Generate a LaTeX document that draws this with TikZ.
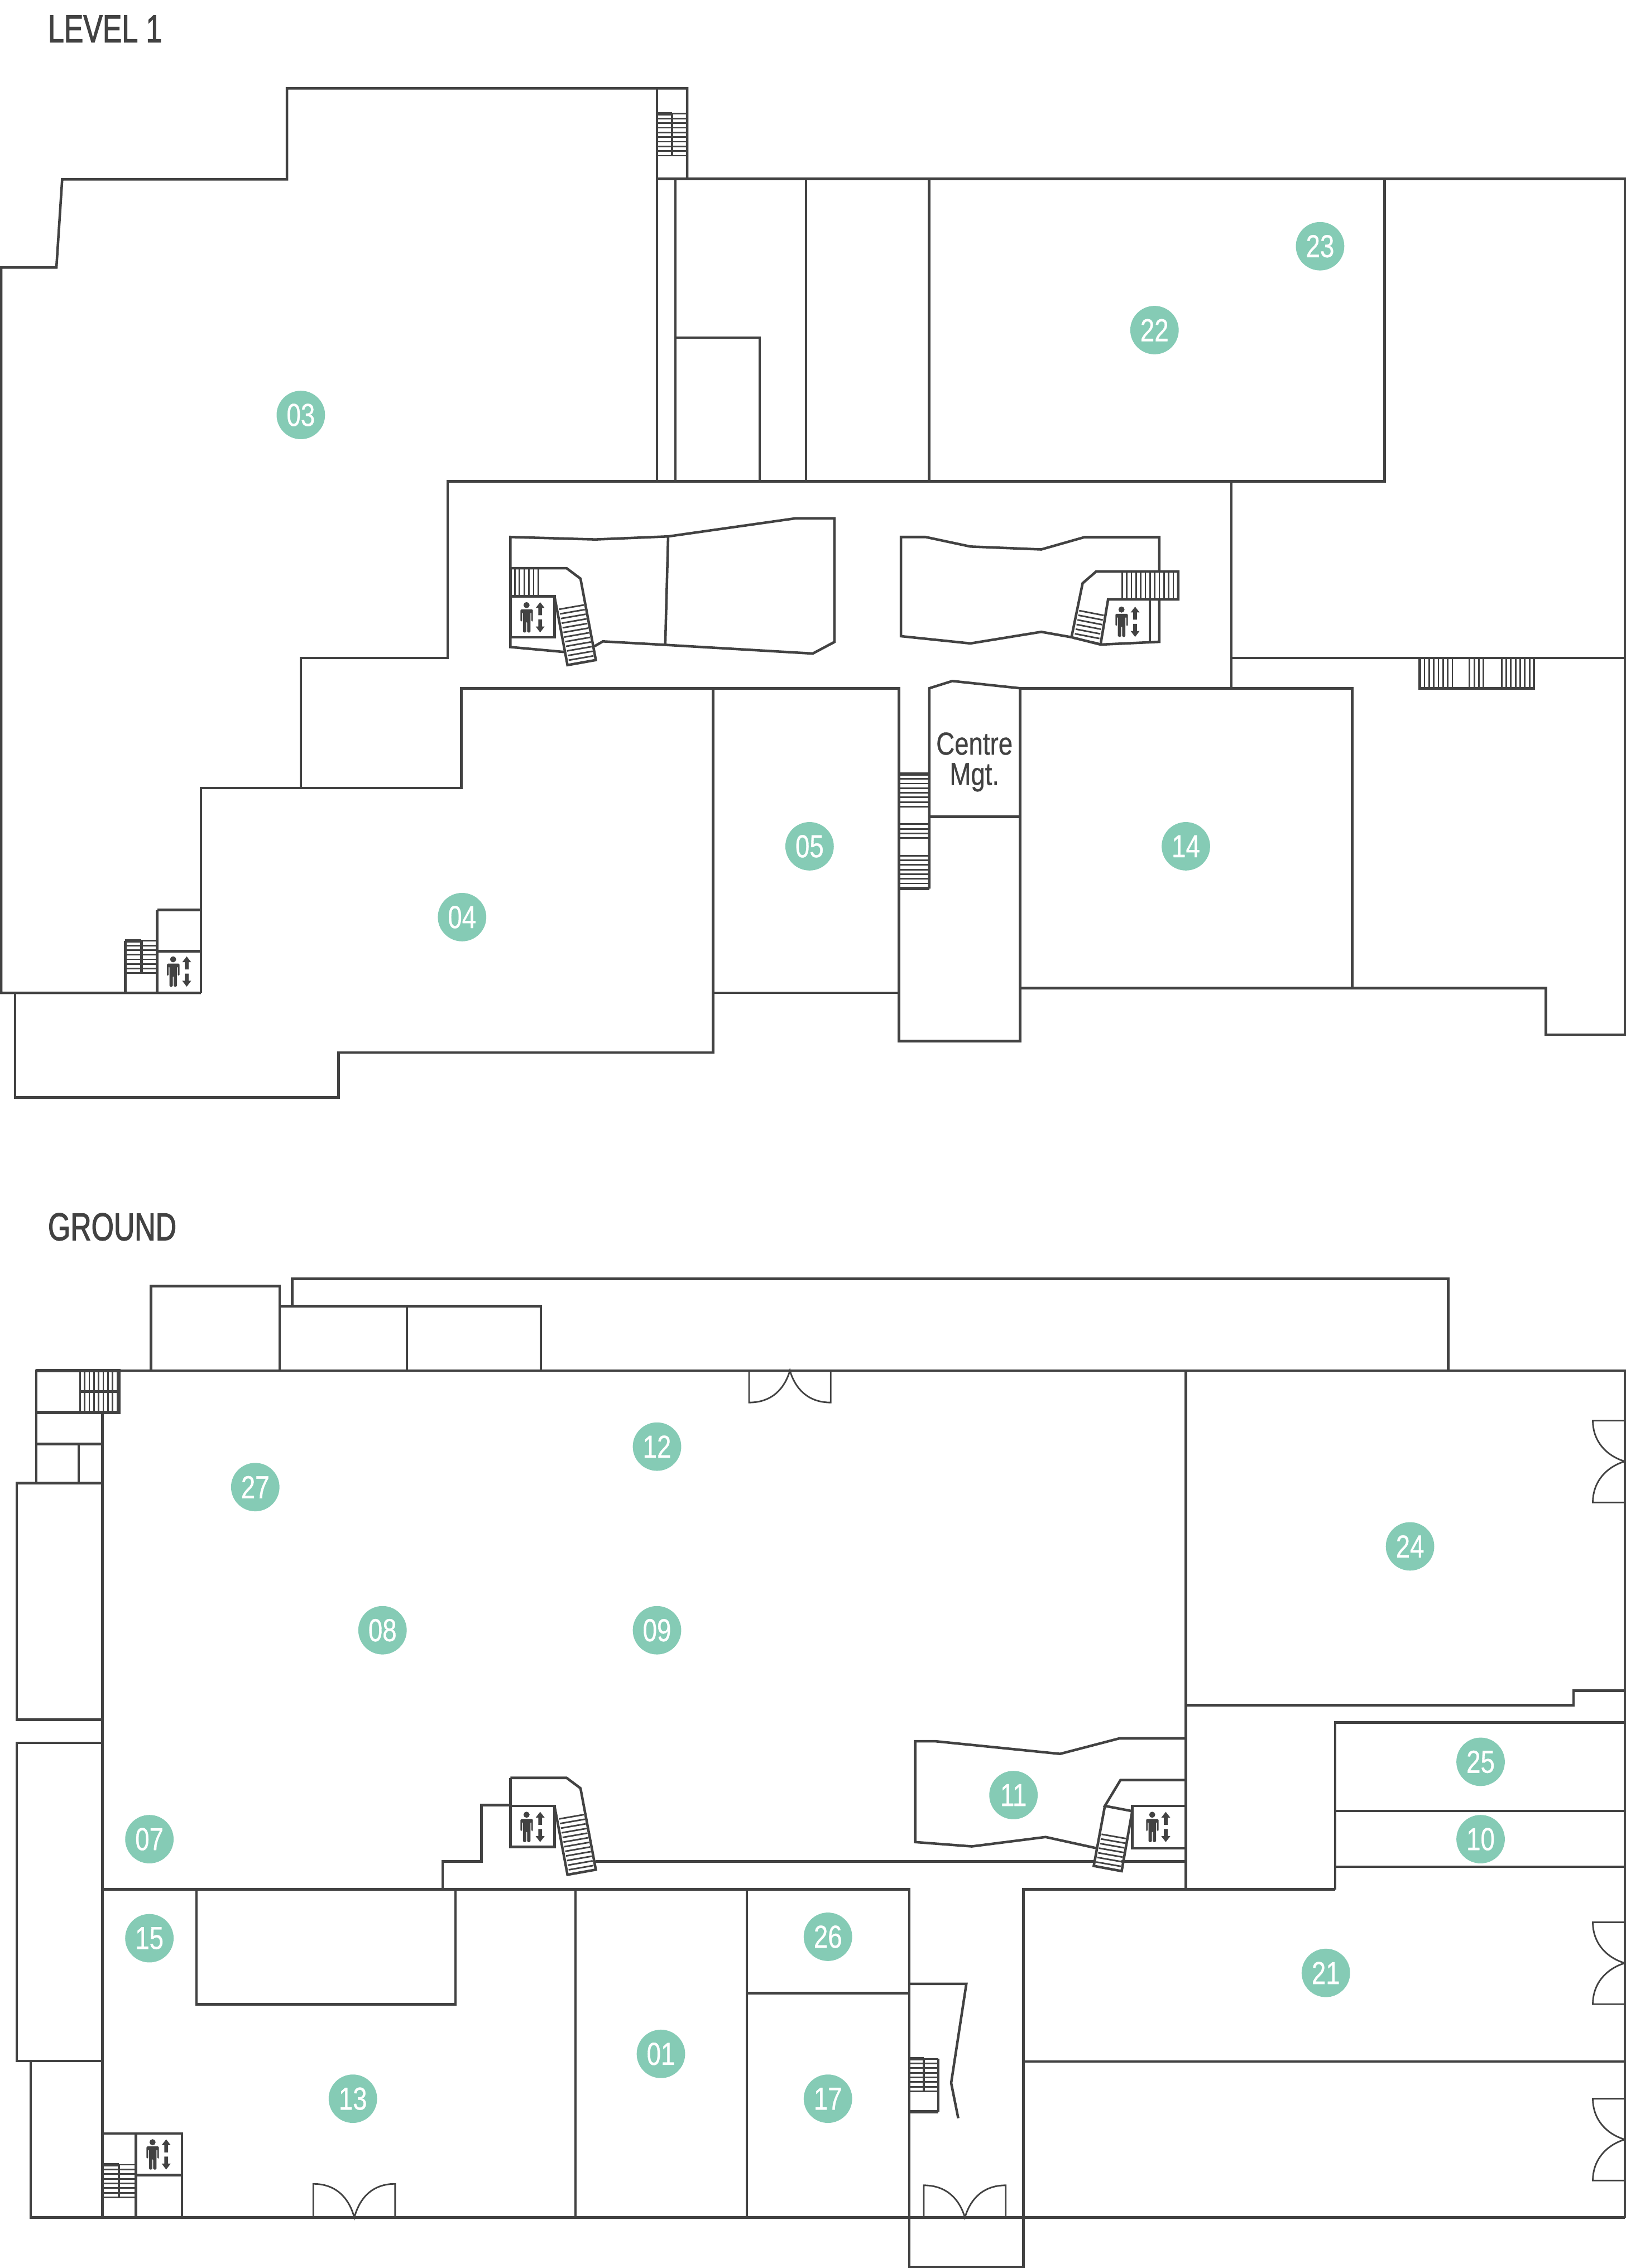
\documentclass[tikz,border=0pt]{standalone}
\usepackage{fontspec}
\setmainfont[FakeStretch=0.8,FakeBold=0.6]{Liberation Sans}
\newfontfamily\levelfont[FakeStretch=0.74,FakeBold=1.6]{Liberation Sans}
\definecolor{plan}{HTML}{424242}
\definecolor{mint}{HTML}{85CBB5}
\begin{document}
\begin{tikzpicture}
[
  x=1pt,
  y=-1pt,
  line join=miter,
  wall/.style={draw=plan,line width=1.75pt},
  heavy/.style={draw=plan,line width=2.4pt},
  tread/.style={draw=plan,line width=1.1pt},
  door/.style={draw=plan,line width=1.1pt},
  room/.style={circle,fill=mint,text=white,minimum size=33.5pt,inner sep=0pt,font=\fontsize{22}{22}\selectfont},
  level/.style={anchor=west,text=plan,inner sep=0pt,font=\levelfont\fontsize{27}{27}\selectfont},
  lifticon/.pic={
    \fill[plan] (-4.5,-8.4) circle[radius=2.1];
    \fill[plan,rounded corners=0.7pt] (-8.7,3) -- (-8.7,-5.5) -- (-0.1,-5.5) -- (-0.1,3) -- (-1.2,3) -- (-1.2,-3.5) -- (-1.8,-3.5) -- (-1.8,10.5) -- (-4.1,10.5) -- (-4.1,3) -- (-4.7,3) -- (-4.7,10.5) -- (-7,10.5) -- (-7,-3.5) -- (-7.6,-3.5) -- (-7.6,3) -- cycle;
    \fill[plan] (4.9,-10.4) -- (8,-6.4) -- (6.2,-6.4) -- (6.2,-1.4) -- (3.6,-1.4) -- (3.6,-6.4) -- (1.8,-6.4) -- cycle;
    \fill[plan] (4.9,10.5) -- (8,6.4) -- (6.2,6.4) -- (6.2,1.5) -- (3.6,1.5) -- (3.6,6.4) -- (1.8,6.4) -- cycle;
  },
  liftstair/.pic={
    \draw[wall] (352.9,393) -- (391.8,393) -- (401.4,400.2) -- (412,456.5) -- (392.4,460) -- (383.4,412.4);
    \draw[wall] (352.9,412.4) -- (383.4,412.4) -- (383.4,440.7) -- (352.9,440.7) -- cycle;
    \draw[wall] (352.9,393) -- (352.9,412.4);
    \foreach \k in {0,...,11}
      \draw[tread] (386.6+0.6*\k,421.4+3.2*\k) -- (403.8+0.6*\k,418.4+3.2*\k);
    \pic at (368.6,426.9) {lifticon};
  }
]
\useasboundingbox (0,0) rectangle (1124,1568.6);

\node[level] (levelone) at (33,20) {LEVEL 1};
\node[level] (ground) at (33,848.5) {GROUND};

% level 1 outline
\draw[wall] (10.5,686.7) -- (10.5,759) -- (234,759) -- (234,728) -- (493,728) -- (493,476);
\draw[wall] (139,686.7) -- (0.8,686.7) -- (0.8,185) -- (39,185) -- (43,124) -- (198.4,124) -- (198.4,61.1) -- (475.2,61.1) -- (475.2,123.8);
\draw[wall] (454.2,61.1) -- (454.2,333);
\draw[wall] (454.2,123.8) -- (1123.5,123.8) -- (1123.5,715.5) -- (1069,715.5) -- (1069,683.4) -- (705.4,683.4);
\draw[wall] (467,123.8) -- (467,333);
\draw[wall] (467,233.5) -- (525.3,233.5) -- (525.3,333);
\draw[wall] (557.3,123.8) -- (557.3,333);
\draw[wall] (642.4,123.8) -- (642.4,333);
\draw[wall] (957.5,123.8) -- (957.5,333) -- (309.5,333) -- (309.5,455) -- (208,455) -- (208,545);
\draw[wall] (851.5,333) -- (851.5,476);
\draw[wall] (851.5,455) -- (1123.5,455);
\draw[wall] (139,686.7) -- (139,545) -- (319,545) -- (319,476) -- (621.6,476) -- (621.6,720) -- (705.4,720) -- (705.4,476) -- (935,476) -- (935,683);
\draw[wall] (493,686.7) -- (621.6,686.7);
\draw[wall] (642.6,614.6) -- (642.6,476) -- (658.5,471) -- (705.4,476);
\draw[wall] (642.6,564.8) -- (705.4,564.8);
\node[text=plan,inner sep=0pt,align=center,font=\fontsize{22}{21}\selectfont] (centre) at (673.8,527) {Centre\\Mgt.};

% level 1 stairs
\draw[wall] (109,629.4) -- (139,629.4);
\draw[wall] (108.7,629.4) -- (108.7,686.7);
\draw[wall] (108.7,657.8) -- (139,657.8);
\draw[wall] (86.6,686.7) -- (86.6,650.7);
\draw[heavy] (86.6,650.7) -- (97.8,650.7);
\draw[tread] (97.8,650.7) -- (108.7,650.7);
\draw[wall] (97.8,650.7) -- (97.8,673.3);
\foreach \k in {1,...,7}
  \draw[tread] (86.6,650.7+3.2*\k) -- (108.7,650.7+3.2*\k);
\pic at (124.2,671.9) {lifticon};

\draw[heavy] (454.2,78.7) -- (464.7,78.7);
\draw[tread] (464.7,78.7) -- (475.2,78.7);
\draw[wall] (464.7,78.7) -- (464.7,107.7);
\foreach \k in {1,...,9}
  \draw[tread] (454.2,78.7+3.22*\k) -- (475.2,78.7+3.22*\k);

\draw[wall] (981.7,455) -- (981.7,476) -- (1060.6,476) -- (1060.6,455);
\foreach \k in {0,...,6} {
  \draw[tread] (985+3.217*\k,455) -- (985+3.217*\k,476);
  \draw[tread] (1038.3+3.217*\k,455) -- (1038.3+3.217*\k,476);
}
\foreach \k in {0,...,3}
  \draw[tread] (1016.2+3.217*\k,455) -- (1016.2+3.217*\k,476);

\draw[heavy] (621.6,535.4) -- (642.6,535.4);
\draw[heavy] (621.6,614.6) -- (642.6,614.6);
\foreach \k in {0,...,6} {
  \draw[tread] (621.6,538.7+3.2*\k) -- (642.6,538.7+3.2*\k);
  \draw[tread] (621.6,591.8+3.2*\k) -- (642.6,591.8+3.2*\k);
}
\foreach \k in {0,...,3}
  \draw[tread] (621.6,570+3.2*\k) -- (642.6,570+3.2*\k);

% level 1 void left
\draw[wall] (352.9,393) -- (352.9,371.4) -- (411.7,373.1) -- (462,371) -- (550,358.5) -- (577,358.5) -- (577,444) -- (562,452) -- (460,446) -- (416.9,443.6) -- (411,447);
\draw[wall] (462,371) -- (460,446);
\draw[wall] (352.9,440.7) -- (352.9,447.5) -- (391,451);
\pic at (0,0) {liftstair};
\foreach \k in {0,...,5}
  \draw[tread] (356+3.25*\k,393) -- (356+3.25*\k,412.4);

% level 1 void right
\draw[wall] (740.9,440.7) -- (720,437) -- (671,445) -- (623,440) -- (623,371.4) -- (640,371.4) -- (671,378) -- (720,380) -- (749.9,371.5) -- (801.6,371.5) -- (801.6,395.3);
\draw[wall] (801.6,414.6) -- (801.6,443.9) -- (761,445.8) -- (740.9,440.7) -- (748.6,403.4) -- (757.9,395.3) -- (814.7,395.3) -- (814.7,414.6) -- (766.2,414.6) -- (761,445.8);
\draw[wall] (795.1,414.6) -- (795.1,443.9);
\foreach \k in {0,...,11}
  \draw[tread] (775.9+3.217*\k,395.3) -- (775.9+3.217*\k,414.6);
\foreach \k in {0,...,6}
  \draw[tread] (746.2-0.6*\k,422.3+3.2*\k) -- (763.2-0.6*\k,425.6+3.2*\k);
\pic at (780,430) {lifticon};

% ground outline
\draw[wall] (104.4,947.9) -- (104.4,889.5) -- (193.4,889.5) -- (193.4,947.9);
\draw[wall] (193.4,903.3) -- (374,903.3) -- (374,947.9);
\draw[wall] (281.4,903.3) -- (281.4,947.9);
\draw[wall] (202,903.3) -- (202,884.5) -- (1001.3,884.5) -- (1001.3,947.9);
\draw[wall] (1123.5,1533.7) -- (1123.5,947.9) -- (25.1,947.9) -- (25.1,1025.7);
\draw[wall] (25.1,976.8) -- (70.8,976.8);
\draw[wall] (25.1,998.7) -- (70.8,998.7);
\draw[wall] (54.4,998.7) -- (54.4,1025.7);
\draw[wall] (70.8,976.8) -- (70.8,1533.7);
\draw[wall] (11.5,1025.7) rectangle (70.8,1189.4);
\draw[wall] (11.5,1205.3) rectangle (70.8,1425.3);
\draw[wall] (21.3,1425.3) -- (21.3,1533.7) -- (1123.5,1533.7);
\draw[wall] (306,1306.7) -- (306,1287.5) -- (333,1287.5) -- (333,1248.5) -- (352.9,1248.5);
\draw[wall] (70.8,1306.7) -- (628.8,1306.7) -- (628.8,1568) -- (707.7,1568) -- (707.7,1306.7) -- (923.3,1306.7);
\draw[wall] (820,947.9) -- (820,1306.7);
\draw[wall] (820,1179.3) -- (1088,1179.3) -- (1088,1169.3) -- (1123.5,1169.3);
\draw[wall] (923.3,1306.7) -- (923.3,1191.3) -- (1123.5,1191.3);
\draw[wall] (923.3,1252.4) -- (1123.5,1252.4);
\draw[wall] (923.3,1291) -- (1123.5,1291);
\draw[wall] (707.7,1425.7) -- (1123.5,1425.7);
\draw[wall] (135.8,1306.7) -- (135.8,1386.3) -- (315,1386.3) -- (315,1306.7);
\draw[wall] (398,1306.7) -- (398,1533.7);
\draw[wall] (516.4,1306.7) -- (516.4,1533.7);
\draw[wall] (516.4,1378.4) -- (628.8,1378.4);

% ground stairs
\draw[heavy] (25.1,947.9) -- (82.3,947.9) -- (82.3,976.8) -- (25.1,976.8);
\draw[wall] (55.3,962.4) -- (82.3,962.4);
\foreach \k in {0,...,8}
  \draw[tread] (55.3+3.22*\k,947.9) -- (55.3+3.22*\k,976.8);

\draw[wall] (70.8,1475.6) -- (125.8,1475.6) -- (125.8,1533.7);
\draw[wall] (93.9,1475.6) -- (93.9,1533.7);
\draw[wall] (93.9,1504.4) -- (125.8,1504.4);
\draw[heavy] (70.8,1497.2) -- (82.3,1497.2);
\draw[tread] (82.3,1497.2) -- (93.9,1497.2);
\draw[wall] (82.3,1497.2) -- (82.3,1519.7);
\foreach \k in {1,...,7}
  \draw[tread] (70.8,1497.2+3.22*\k) -- (93.9,1497.2+3.22*\k);
\pic at (110,1490) {lifticon};

\draw[wall] (628.8,1372.1) -- (668.2,1372.1) -- (657.7,1440.6) -- (662.6,1465);
\draw[tread] (628.8,1423.9) -- (648.9,1423.9);
\draw[heavy] (628.8,1423.9) -- (638.8,1423.9);
\draw[wall] (648.9,1423.9) -- (648.9,1460.4);
\draw[heavy] (628.8,1460.4) -- (648.9,1460.4);
\draw[wall] (638.8,1423.9) -- (638.8,1446.4);
\foreach \k in {1,...,7}
  \draw[tread] (628.8,1423.9+3.22*\k) -- (648.9,1423.9+3.22*\k);

% ground void
\draw[wall] (352.9,1229.6) -- (352.9,1249);
\pic at (0,836.6) {liftstair};
\draw[wall] (412,1287.5) -- (756.9,1287.5);
\draw[wall] (775.6,1287.5) -- (820,1287.5);
\draw[wall] (758.5,1278.3) -- (723,1270.5) -- (672,1277) -- (632.8,1274) -- (632.8,1204.3) -- (647,1204.3) -- (733,1213) -- (774,1202.3) -- (820,1202.3);
\draw[wall] (820,1231.1) -- (774.8,1231.1) -- (764,1249) -- (782.9,1252.6) -- (775.6,1294.1) -- (756.3,1290.5) -- (764,1249);
\draw[wall] (820,1249) -- (782.9,1249) -- (782.9,1278.3) -- (820,1278.3);
\foreach \k in {0,...,6}
  \draw[tread] (761.7-0.6*\k,1268.6+3.2*\k) -- (778.7-0.6*\k,1271.6+3.2*\k);
\pic at (801.2,1263.5) {lifticon};

% doors
\foreach \dx/\dy in {0/0,-422.2/-1} {
  \draw[door] (638.8+\dx,1533.7) -- (638.8+\dx,1511.4+\dy) .. controls (654.5+\dx,1511.4+\dy) and (663.5+\dx,1521+\dy) .. (667.2+\dx,1533.7) .. controls (670.9+\dx,1521+\dy) and (679.7+\dx,1511.4+\dy) .. (695.4+\dx,1511.4+\dy) -- (695.4+\dx,1533.7);
}
\draw[door] (518,947.9) -- (518,970) .. controls (533.7,970) and (542.5,960.5) .. (546.2,947.9) .. controls (549.9,960.5) and (558.7,970) .. (574.4,970) -- (574.4,947.9);
\foreach \dy in {0,347,469} {
  \draw[door] (1123.5,982.5+\dy) -- (1101.4,982.5+\dy) .. controls (1101.4,997+\dy) and (1111,1007+\dy) .. (1123.5,1010.7+\dy) .. controls (1111,1014.5+\dy) and (1101.4,1024.5+\dy) .. (1101.4,1039.1+\dy) -- (1123.5,1039.1+\dy);
}

% room numbers
\foreach \num/\px/\py in {03/208/287,22/798.3/228.3,23/912.8/170.3,04/319.5/634.3,05/559.8/585.3,14/820/585.3,12/454.3/1000.5,27/176.5/1028.5,08/264.5/1127.5,09/454.3/1127.5,24/975/1069.5,25/1023.8/1218.5,10/1023.8/1272,11/700.8/1241.5,07/103.3/1272,15/103.3/1340.5,26/572.5/1339.5,21/916.8/1364.5,01/457/1420.5,13/244/1451.5,17/572.5/1451.5}
  \node[room] (room\num) at (\px,\py) {\num};

\end{tikzpicture}
\end{document}
